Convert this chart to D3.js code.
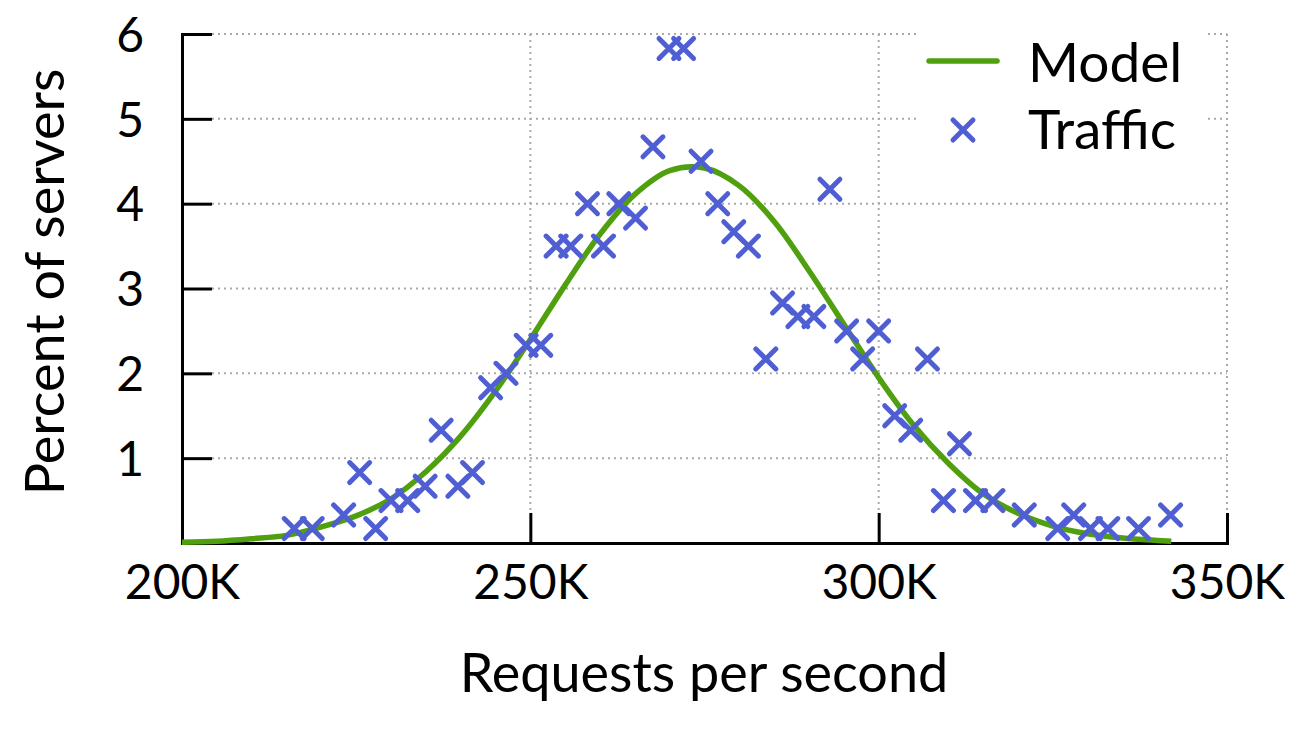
<!DOCTYPE html>
<html>
<head>
<meta charset="utf-8">
<script src="https://cdn.jsdelivr.net/npm/d3@7"></script>
<style>
  body { margin: 0; background: #fff; }
  svg text { font-family: Lato, "Open Sans", sans-serif; fill: #000; }
</style>
</head>
<body>
<div id="chart"></div>
<script>
// Traffic histogram (x in thousands of requests per second, y in percent)
var trafficK = [216.1, 218.7, 223.2, 225.5, 227.8, 230.0, 232.4, 234.9, 237.2, 239.6,
                241.7, 244.3, 246.5, 249.4, 251.5, 253.7, 255.8, 258.2, 260.5, 262.7,
                265.1, 267.6, 269.9, 272.0, 274.5, 276.9, 279.2, 281.3, 283.8, 286.2,
                288.4, 290.7, 293.0, 295.4, 297.7, 300.0, 302.3, 304.6, 307.0, 309.3,
                311.6, 313.9, 316.4, 320.9, 325.7, 328.0, 330.4, 332.9, 337.3, 341.9];
var trafficPct = [0.17, 0.17, 0.33, 0.83, 0.17, 0.50, 0.50, 0.67, 1.33, 0.67,
                  0.83, 1.83, 2.00, 2.33, 2.33, 3.50, 3.50, 4.00, 3.50, 4.00,
                  3.83, 4.67, 5.83, 5.83, 4.50, 4.00, 3.67, 3.50, 2.17, 2.83,
                  2.67, 2.67, 4.17, 2.50, 2.17, 2.50, 1.50, 1.33, 2.17, 0.50,
                  1.17, 0.50, 0.50, 0.33, 0.17, 0.33, 0.17, 0.17, 0.17, 0.33];

// Model curve, every 5K
var modelK   = [200, 205, 210, 215, 220, 225, 230, 235, 240, 245, 250, 255, 260, 265, 270,
                275, 280, 285, 290, 295, 300, 305, 310, 315, 320, 325, 330, 335, 340, 342];
var modelPct = [0.01, 0.02, 0.05, 0.09, 0.19, 0.32, 0.52, 0.84, 1.26, 1.79, 2.40, 3.04, 3.64, 4.11, 4.39,
                4.42, 4.21, 3.79, 3.21, 2.58, 1.95, 1.39, 0.94, 0.58, 0.35, 0.20, 0.11, 0.06, 0.03, 0.02];

var xTicks = [200, 250, 300, 350];
var yTicks = [1, 2, 3, 4, 5, 6];

var W = 1314, H = 731;
var green = '#4f9f0e';
var blue = '#4f5fd3';

var svg = d3.select('#chart').append('svg')
	.attr('width', W)
	.attr('height', H);

var x = d3.scaleLinear().domain([200, 350]).range([182, 1227]);
var y = d3.scaleLinear().domain([0, 6]).range([543, 34]);
var tickLen = 30;

// Grid (dotted)
var grid = svg.append('g')
	.attr('stroke', '#aaa')
	.attr('stroke-width', 2)
	.attr('stroke-dasharray', '2,4');

grid.selectAll('line.h')
	.data(yTicks)
	.enter()
	.append('line')
	.attr('x1', x(200) + tickLen)
	.attr('x2', x(350))
	.attr('y1', function(d) { return y(d); })
	.attr('y2', function(d) { return y(d); });

grid.selectAll('line.v')
	.data(xTicks.slice(1))
	.enter()
	.append('line')
	.attr('x1', function(d) { return x(d); })
	.attr('x2', function(d) { return x(d); })
	.attr('y1', y(6))
	.attr('y2', y(0) - tickLen);

// Axes
var yAxis = d3.axisLeft(y).tickValues(yTicks).tickSize(-tickLen).tickPadding(38).tickFormat(d3.format('d'));
var xAxis = d3.axisBottom(x).tickValues(xTicks).tickSize(-tickLen).tickPadding(22).tickFormat(function(d) { return d + 'K'; });

var gy = svg.append('g')
	.attr('transform', 'translate(' + x(200) + ',0)')
	.call(yAxis);
var gx = svg.append('g')
	.attr('transform', 'translate(0,' + y(0) + ')')
	.call(xAxis);

[gx, gy].forEach(function(g) {
	g.select('.domain').attr('stroke', '#000').attr('stroke-width', 3);
	g.selectAll('.tick line').attr('stroke', '#000').attr('stroke-width', 3);
	g.selectAll('.tick text')
		.style('font-size', '48px')
		.attr('fill', '#000');
});
gx.selectAll('.tick').filter(function(d) { return d == 200; }).select('line').remove();
gx.selectAll('.tick text').attr('dy', '0.71em');
gy.selectAll('.tick text').attr('dy', '0.36em');

// Model curve
var line = d3.line()
	.x(function(d, i) { return x(modelK[i]); })
	.y(function(d) { return y(d); })
	.curve(d3.curveCatmullRom);

svg.append('path')
	.datum(modelPct)
	.attr('d', line)
	.attr('fill', 'none')
	.attr('stroke', green)
	.attr('stroke-width', 5.5);

// Traffic markers
var s = 10;
var cross = 'M' + (-s) + ',' + (-s) + 'L' + s + ',' + s + 'M' + (-s) + ',' + s + 'L' + s + ',' + (-s);

svg.append('g').selectAll('path')
	.data(trafficPct)
	.enter()
	.append('path')
	.attr('transform', function(d, i) { return 'translate(' + x(trafficK[i]) + ',' + y(d) + ')'; })
	.attr('d', cross)
	.attr('fill', 'none')
	.attr('stroke', blue)
	.attr('stroke-width', 5)
	.attr('stroke-linecap', 'round');

// Legend
var legend = svg.append('g');
legend.append('rect')
	.attr('x', 920).attr('y', 30).attr('width', 285).attr('height', 130)
	.attr('fill', '#fff');
legend.append('line')
	.attr('x1', 929).attr('x2', 997)
	.attr('y1', 61).attr('y2', 61)
	.attr('stroke', green)
	.attr('stroke-width', 5.5)
	.attr('stroke-linecap', 'round');
legend.append('path')
	.attr('transform', 'translate(963,130)')
	.attr('d', cross)
	.attr('stroke', blue)
	.attr('stroke-width', 5)
	.attr('stroke-linecap', 'round');
legend.selectAll('text')
	.data(['Model', 'Traffic'])
	.enter()
	.append('text')
	.attr('x', 1028)
	.attr('y', function(d, i) { return 82 + i * 67; })
	.style('font-size', '55px')
	.text(function(d) { return d; });

// Axis titles
svg.append('text')
	.attr('x', 704)
	.attr('y', 692)
	.attr('text-anchor', 'middle')
	.style('font-size', '54px')
	.text('Requests per second');

svg.append('text')
	.attr('transform', 'translate(64,282) rotate(-90)')
	.attr('text-anchor', 'middle')
	.style('font-size', '54px')
	.text('Percent of servers');
</script>
</body>
</html>
